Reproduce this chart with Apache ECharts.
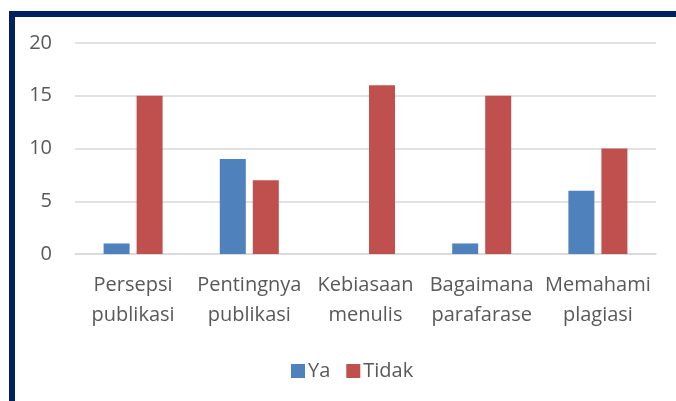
<!DOCTYPE html>
<html>
<head>
<meta charset="utf-8">
<script src="https://cdn.jsdelivr.net/npm/echarts@6/dist/echarts.min.js"></script>
<style>
html,body{margin:0;padding:0;background:#fff;}
#chart{position:absolute;left:0;top:0;width:676px;height:401px;}
#frame{position:absolute;left:9px;top:11px;width:670px;height:400px;border-top:6px solid #002060;border-left:6px solid #002060;pointer-events:none;}
</style>
</head>
<body>
<div id="chart"></div>
<div id="frame"></div>
<script>
const categories = ['Persepsi\npublikasi', 'Pentingnya\npublikasi', 'Kebiasaan\nmenulis', 'Bagaimana\nparafarase', 'Memahami\nplagiasi'];
const seriesNames = ['Ya', 'Tidak'];
const yaValues = [1, 9, 0, 1, 6];
const tidakValues = [15, 7, 16, 15, 10];
const yTicks = [0, 5, 10, 15, 20];

const font = '"Open Sans", "Noto Sans", sans-serif';
const chart = echarts.init(document.getElementById('chart'), null, {renderer: 'canvas'});
chart.setOption({
  animation: false,
  textStyle: {fontFamily: font},
  grid: {left: 75, right: 20, top: 43, bottom: 147, containLabel: false},
  legend: {
    data: seriesNames,
    left: 286,
    top: 356,
    itemWidth: 14,
    itemHeight: 14,
    itemGap: 16,
    icon: 'rect',
    textStyle: {fontSize: 20, color: '#595959', fontFamily: font, padding: [0, 0, 0, -2]}
  },
  xAxis: {
    type: 'category',
    data: categories,
    axisTick: {show: false},
    axisLine: {lineStyle: {color: '#D9D9D9', width: 1.5}},
    axisLabel: {interval: 0, fontSize: 20, color: '#595959', lineHeight: 30, margin: 16, fontFamily: font}
  },
  yAxis: {
    type: 'value',
    min: yTicks[0],
    max: yTicks[yTicks.length - 1],
    interval: 5,
    axisLine: {show: false},
    axisTick: {show: false},
    splitLine: {lineStyle: {color: '#D9D9D9', width: 1.5}},
    axisLabel: {fontSize: 20, color: '#595959', margin: 23, fontFamily: font}
  },
  series: [
    {name: seriesNames[0], type: 'bar', data: yaValues, barWidth: 26, barGap: '27%', itemStyle: {color: '#4F81BD'}},
    {name: seriesNames[1], type: 'bar', data: tidakValues, barWidth: 26, itemStyle: {color: '#C0504D'}}
  ]
});
</script>
</body>
</html>
